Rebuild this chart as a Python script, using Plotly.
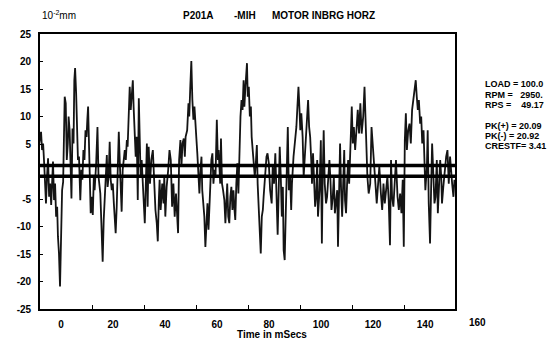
import plotly.graph_objects as go

# ---------------- data ----------------
time_ms = [
    -8.8, -8.2, -7.7, -7.3, -6.9, -6.5, -6.2, -5.8, -5.4, -5.0, -4.6, -4.2, -3.8, -3.5, -3.1, -2.7,
    -2.3, -1.9, -1.5, -1.2, -0.8, -0.4, -0.1, 0.1, 0.4, 0.8, 1.2, 1.4, 1.8, 2.2, 2.6, 2.9,
    3.3, 3.7, 4.0, 4.4, 4.8, 5.1, 5.4, 5.8, 6.2, 6.5, 6.9, 7.4, 7.8, 8.2, 8.6, 9.0,
    9.4, 9.8, 10.1, 10.4, 10.8, 11.2, 11.4, 11.8, 12.2, 12.6, 12.9, 13.5, 14.0, 14.4, 14.7, 15.1,
    15.5, 16.0, 16.4, 16.8, 17.2, 17.6, 17.9, 18.3, 18.7, 19.1, 19.5, 19.9, 20.3, 20.6, 21.0, 21.4,
    21.8, 22.2, 22.6, 22.9, 23.3, 23.7, 24.1, 24.5, 24.9, 25.3, 25.6, 26.0, 26.4, 26.8, 27.2, 27.6,
    27.9, 28.3, 28.7, 29.1, 29.5, 29.9, 30.3, 30.6, 31.0, 31.4, 31.8, 32.2, 32.6, 33.0, 33.3, 33.7,
    34.2, 34.7, 35.3, 35.8, 36.3, 36.8, 37.2, 37.6, 37.9, 38.3, 38.9, 39.4, 39.7, 40.1, 40.6, 41.2,
    41.7, 42.2, 42.7, 43.2, 43.7, 44.2, 44.7, 45.0, 45.4, 45.9, 46.3, 46.7, 47.2, 47.6, 47.9, 48.5,
    49.0, 49.3, 49.7, 50.1, 50.5, 50.9, 51.3, 51.7, 52.0, 52.4, 52.8, 53.2, 53.6, 54.0, 54.3, 54.7,
    55.1, 55.5, 55.9, 56.3, 56.7, 57.1, 57.4, 57.8, 58.2, 58.6, 59.0, 59.4, 59.9, 60.3, 60.6, 61.2,
    61.5, 61.9, 62.3, 62.8, 63.2, 63.6, 63.9, 64.3, 64.7, 65.1, 65.5, 65.9, 66.3, 66.7, 67.0, 67.4,
    67.8, 68.2, 68.6, 69.0, 69.4, 69.8, 70.2, 70.5, 70.9, 71.3, 71.5, 71.8, 72.2, 72.6, 73.0, 73.3,
    73.7, 74.1, 74.5, 74.9, 75.3, 75.6, 76.0, 76.4, 76.8, 77.2, 77.6, 77.9, 78.5, 79.0, 79.4, 79.9,
    80.4, 81.0, 81.4, 81.9, 82.4, 83.0, 83.3, 83.7, 84.1, 84.5, 84.9, 85.3, 85.6, 86.0, 86.4, 86.8,
    87.2, 87.6, 88.1, 88.5, 88.8, 89.4, 89.7, 90.1, 90.5, 90.9, 91.3, 91.7, 92.0, 92.4, 92.9, 93.3,
    93.7, 94.2, 94.6, 95.0, 95.4, 95.8, 96.2, 96.5, 96.9, 97.3, 97.7, 98.1, 98.5, 98.8, 99.4, 99.9,
    100.3, 100.6, 101.0, 101.4, 101.9, 102.3, 102.7, 103.2, 103.6, 104.0, 104.5, 104.9, 105.3, 105.8, 106.2, 106.5,
    106.9, 107.3, 107.7, 108.1, 108.5, 108.9, 109.2, 109.6, 110.0, 110.4, 110.8, 111.2, 111.5, 111.8, 112.2, 112.6,
    113.1, 113.6, 114.1, 114.6, 115.1, 115.6, 116.2, 116.7, 117.1, 117.4, 117.8, 118.3, 118.9, 119.4, 119.9, 120.4,
    120.9, 121.4, 122.0, 122.4, 123.0, 123.5, 124.0, 124.5, 125.0, 125.5, 126.0, 126.5, 126.9, 127.3, 127.8, 128.3,
    128.8, 129.4, 129.9, 130.4, 130.9, 131.4, 131.8, 132.2, 132.6, 133.0, 133.5, 134.0, 134.5, 135.0, 135.5, 136.0,
    136.4, 136.8, 137.2, 137.6, 138.1, 138.5, 138.9, 139.4, 139.8, 140.1, 140.7, 141.0, 141.4, 141.9, 142.3, 142.7,
    143.2, 143.6, 144.0, 144.5, 144.9, 145.3, 145.8, 146.2, 146.5, 147.0, 147.6, 148.1, 148.6, 149.1, 149.6, 150.0,
    150.4, 150.9, 151.3,
]
amplitude = [
    3.9, 5.4, 7.2, 3.9, 5.1, 1.5, -3.4, -5.8, -0.9, 2.4, -4.6, -2.2, -6.1, -3.4, 1.8, -5.2,
    -2.2, -8.2, -6.4, -11.8, -14.9, -20.9, -11.8, -14.3, -3.4, -1.9, 13.0, 13.6, 12.4, 2.1, 5.1, 10.0,
    7.5, 2.1, -4.9, 7.8, 5.1, 16.6, 18.8, 14.2, 8.7, 2.1, 2.7, -5.2, 0.3, -1.5, 3.9, 2.1,
    7.5, 6.3, 9.4, 11.8, 3.9, -2.8, -7.6, -4.6, -7.9, -0.9, -3.4, 1.5, 8.1, -0.9, -2.8, -4.0,
    -9.4, -16.4, -8.8, -4.6, -1.5, 3.0, -2.8, -0.9, 5.4, -1.5, -3.4, -2.2, -5.8, -8.2, -11.2, -6.4,
    -0.9, 7.2, 1.5, -3.4, -7.3, 0.3, 2.7, 3.9, 2.1, 5.7, 4.5, 10.0, 15.4, 11.2, 14.2, 16.6,
    11.8, 7.5, 2.7, 6.3, -5.2, 13.3, 6.9, -0.9, 2.1, -2.2, -3.4, -9.4, -2.2, 5.1, -6.4, 4.5,
    -2.2, 2.1, 3.9, -3.4, -7.0, -9.4, -12.7, -5.2, -1.5, -7.0, -2.2, -5.8, -0.9, -8.2, -2.8, 0.3,
    3.9, 2.1, -6.4, -2.2, -8.2, -4.0, -10.6, -11.2, 2.1, 5.7, 0.9, 5.1, 6.0, 2.7, 6.3, 7.5,
    12.4, 10.0, 15.4, 20.1, 13.0, 9.4, 11.8, 7.5, 6.3, 3.3, -2.2, -4.0, 0.3, 2.7, -3.4, -5.8,
    -8.2, -13.7, -10.0, -5.8, -10.6, -4.6, -0.3, 2.1, 3.3, -2.2, 0.3, -0.9, 9.4, 2.1, 3.9, -2.2,
    6.0, -2.2, -3.4, -5.2, -9.4, -6.4, -2.2, -8.2, -9.4, -4.6, -2.8, -7.0, -3.4, -7.0, -8.8, -2.2,
    1.5, -4.0, 6.9, 10.0, 13.0, 11.2, 16.6, 11.8, 15.4, 18.4, 19.7, 13.6, 15.4, 10.0, 11.8, 6.3,
    3.9, 2.1, -0.9, 1.5, 4.8, -2.2, -7.0, -9.4, -14.9, -8.2, -7.0, -4.6, -0.9, 2.7, 3.3, 1.5,
    -3.4, -5.8, 0.9, -2.2, 3.3, -8.2, -11.5, -3.4, 4.5, -0.9, -8.2, -2.8, -14.3, -16.1, -8.2, -4.6,
    8.1, -3.4, -0.9, -7.0, -2.2, 2.7, 3.9, 6.3, 8.1, 11.8, 15.4, 11.2, 7.5, 10.6, 6.3, -0.9,
    2.1, 7.5, 10.6, 13.0, 8.1, 6.3, 2.1, -2.2, 3.3, -2.8, -6.4, -4.6, 2.1, -8.2, -3.4, 5.7,
    -13.1, -1.5, 7.5, -2.2, -5.8, -4.6, -2.2, 2.1, -1.5, -7.0, -4.6, -0.9, -7.6, -4.6, -3.4, -13.7,
    -5.8, 5.1, -3.4, -8.2, -2.2, 3.9, -5.2, -7.6, -2.2, 2.1, -2.2, 2.1, 7.5, 11.8, 5.1, 8.1,
    3.9, 7.5, 11.2, 6.9, 12.4, 6.9, 10.0, 15.4, 8.1, 2.1, -0.9, -4.0, -2.2, 8.1, 3.9, 2.1,
    -2.2, -5.8, -0.9, 0.9, -4.0, -7.0, -2.2, -5.8, -3.4, -0.9, -5.2, -13.4, 2.1, -4.6, -6.4, -2.2,
    2.1, -4.6, -7.0, -4.0, -7.6, -1.5, -13.7, 5.7, 10.6, 3.9, 7.5, 8.7, 5.1, 11.2, 13.0, 14.8,
    16.6, 13.6, 11.2, 13.0, 8.7, 10.0, 5.1, 7.5, -1.5, -3.4, 0.9, 7.5, -5.8, -13.1, -3.4, 5.1,
    -0.9, -5.8, -4.6, 2.1, -7.6, -3.4, 2.1, -0.9, -5.8, -2.8, 0.3, 2.7, 3.9, -2.2, 2.7, -0.9,
    -2.2, -4.6, -1.5,
]
band_levels = [1.1, -0.85]

x_range = [-8.1, 151.5]
y_range = [-25, 25]
x_label_vals = [0, 20, 40, 60, 80, 100, 120, 140]
x_label_beyond = 160
x_mark_vals = [12, 32, 52, 72, 92, 112, 132]
y_label_vals = [25, 20, 15, 10, 5, -5, -10, -15, -20, -25]
y_right_marks = [20, 15, 10, 5, 0, -5, -10, -15, -20]

title_parts = ["P201A", "-MIH", "MOTOR INBRG HORZ"]
unit_text = "10<sup>-2</sup>mm"
x_title = "Time in mSecs"
info_lines = ["LOAD = 100.0", "RPM =   2950.", "RPS =    49.17",
              "PK(+) = 20.09", "PK(-) = 20.92", "CRESTF= 3.41"]

# ---------------- figure ----------------
FONT = "Arial, 'Liberation Sans', Helvetica, sans-serif"
fig = go.Figure()
fig.add_trace(go.Scatter(x=time_ms, y=amplitude, mode="lines",
                         line=dict(color="#141414", width=1.8), showlegend=False,
                         hoverinfo="skip"))
for lvl in band_levels:
    fig.add_hline(y=lvl, line=dict(color="black", width=3.4))

axis_font = dict(family=FONT, size=10, color="black", weight="bold")
fig.update_layout(
    width=554, height=343,
    margin=dict(l=40, r=99, t=34, b=34),
    paper_bgcolor="white", plot_bgcolor="white",
    showlegend=False,
    xaxis=dict(range=x_range, tickmode="array", tickvals=x_label_vals,
               ticktext=[str(v) for v in x_label_vals], ticks="",
               showgrid=False, zeroline=False, showline=True, linecolor="black",
               linewidth=1.8, mirror=True, tickfont=axis_font,
               ticklabelstandoff=5,
               minor=dict(tickmode="array", tickvals=x_mark_vals, ticks="inside",
                          ticklen=4, tickwidth=1.3, tickcolor="black", showgrid=False)),
    xaxis2=dict(range=x_range, overlaying="x", side="top", anchor="y",
                tickmode="array", tickvals=x_mark_vals, ticks="inside",
                ticklen=4, tickwidth=1.3, tickcolor="black", showticklabels=False,
                showgrid=False, zeroline=False, showline=False),
    yaxis=dict(range=y_range, tickmode="array", tickvals=y_label_vals,
               ticktext=[str(v) for v in y_label_vals], ticks="inside", ticklen=3,
               tickwidth=1, tickcolor="black",
               showgrid=False, zeroline=False, showline=True, linecolor="black",
               linewidth=1.8, mirror=True, tickfont=axis_font,
               ticklabelstandoff=5),
    yaxis2=dict(range=y_range, overlaying="y", side="right", anchor="x",
                tickmode="array", tickvals=y_right_marks, ticks="outside",
                ticklen=5, tickwidth=1.3, tickcolor="black", showticklabels=False,
                showgrid=False, zeroline=False, showline=True, linecolor="black",
                linewidth=1.8),
)

ann_font = dict(family=FONT, size=10, color="black", weight="bold")
info_font = dict(family=FONT, size=9, color="black", weight="bold")
span = x_range[1] - x_range[0]
fig.add_annotation(x=(x_label_beyond - x_range[0]) / span, y=0, xref="paper", yref="paper",
                   text=str(x_label_beyond), showarrow=False, xanchor="center",
                   yanchor="top", yshift=-6, font=axis_font)
fig.add_annotation(x=0.559, y=-0.091, xref="paper", yref="paper", text=x_title,
                   showarrow=False, xanchor="center", yanchor="middle", font=ann_font)
fig.add_annotation(x=0.0, y=1.069, xref="paper", yref="paper", text=unit_text,
                   showarrow=False, xanchor="left", yanchor="middle",
                   font=dict(family=FONT, size=10, color="black"))
for txt, xp in zip(title_parts, [0.383, 0.494, 0.682]):
    fig.add_annotation(x=xp, y=1.069, xref="paper", yref="paper", text=txt,
                       showarrow=False, xanchor="center", yanchor="middle",
                       font=ann_font)
for txt, yp in zip(info_lines, [0.818, 0.778, 0.743, 0.666, 0.630, 0.593]):
    fig.add_annotation(x=1.067, y=yp, xref="paper", yref="paper",
                       text=txt.replace(" ", "\u00a0"), showarrow=False,
                       xanchor="left", yanchor="middle", font=info_font)

fig.write_html("out.html", config={"displayModeBar": False},
               post_script="document.body.style.margin='0';document.body.style.overflow='hidden';")
